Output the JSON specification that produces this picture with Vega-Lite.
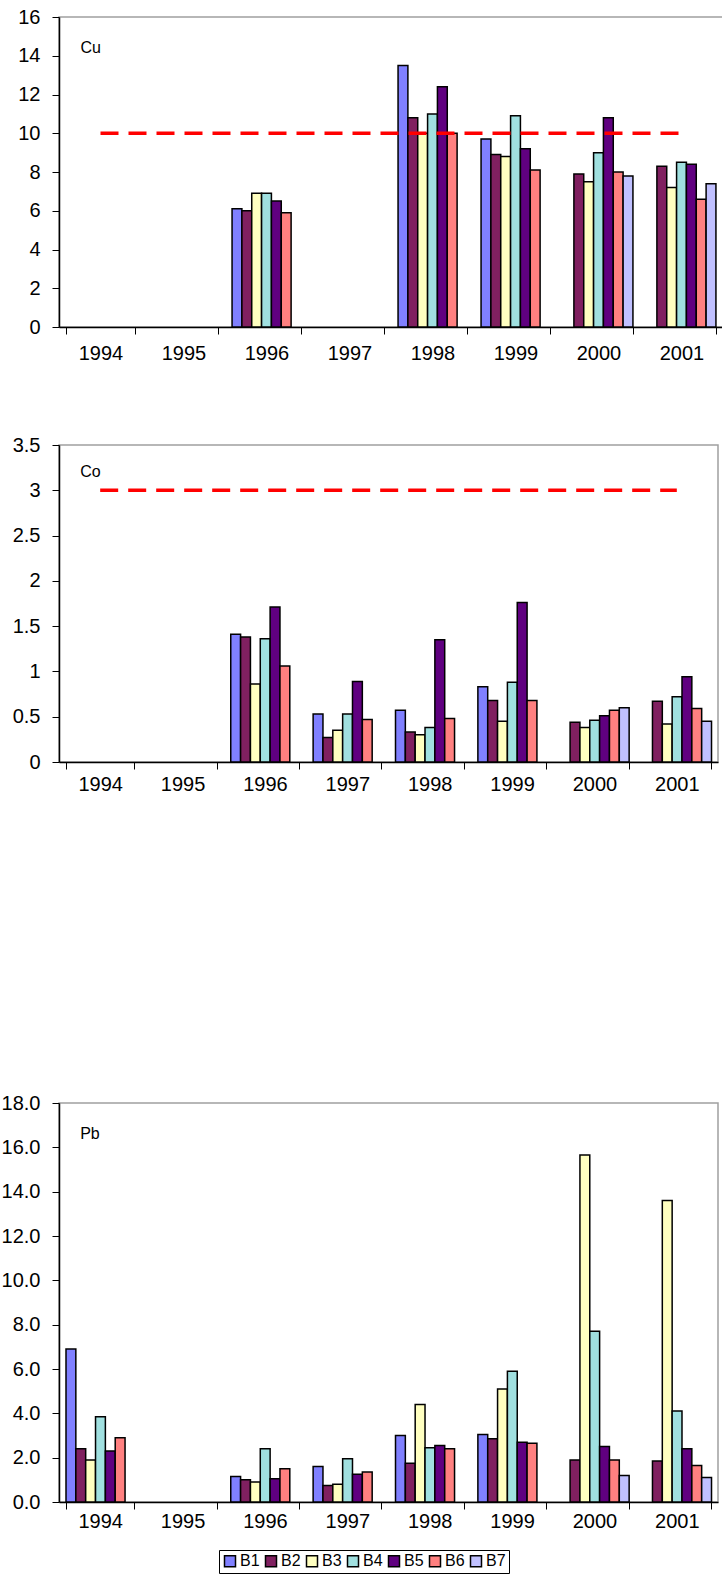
{
  "$schema": "https://vega.github.io/schema/vega-lite/v6.json",
  "background": "white",
  "padding": {"left": 0, "top": 6, "right": 0, "bottom": 0},
  "config": {
    "view": {"stroke": "#a0a0a0", "strokeWidth": 1.5},
    "font": "Liberation Sans",
    "axis": {"grid": false, "domainColor": "black", "domainWidth": 1.5, "tickColor": "black", "labelColor": "black", "labelFontSize": 20, "title": null, "labelFont": "Liberation Sans"},
    "axisX": {"tickBand": "extent", "tickSize": 7, "labelPadding": 5, "labelAngle": 0},
    "axisY": {"tickSize": 7, "labelPadding": 12, "labelFontSize": 20},
    "bar": {"stroke": "black", "strokeWidth": 1.5}
  },
  "datasets": {
    "cu": [
      {"year": "1996", "site": "B1", "v": 6.1}, {"year": "1996", "site": "B2", "v": 6.0}, {"year": "1996", "site": "B3", "v": 6.9}, {"year": "1996", "site": "B4", "v": 6.9}, {"year": "1996", "site": "B5", "v": 6.5}, {"year": "1996", "site": "B6", "v": 5.9},
      {"year": "1998", "site": "B1", "v": 13.5}, {"year": "1998", "site": "B2", "v": 10.8}, {"year": "1998", "site": "B3", "v": 10.0}, {"year": "1998", "site": "B4", "v": 11.0}, {"year": "1998", "site": "B5", "v": 12.4}, {"year": "1998", "site": "B6", "v": 10.0},
      {"year": "1999", "site": "B1", "v": 9.7}, {"year": "1999", "site": "B2", "v": 8.9}, {"year": "1999", "site": "B3", "v": 8.8}, {"year": "1999", "site": "B4", "v": 10.9}, {"year": "1999", "site": "B5", "v": 9.2}, {"year": "1999", "site": "B6", "v": 8.1},
      {"year": "2000", "site": "B2", "v": 7.9}, {"year": "2000", "site": "B3", "v": 7.5}, {"year": "2000", "site": "B4", "v": 9.0}, {"year": "2000", "site": "B5", "v": 10.8}, {"year": "2000", "site": "B6", "v": 8.0}, {"year": "2000", "site": "B7", "v": 7.8},
      {"year": "2001", "site": "B2", "v": 8.3}, {"year": "2001", "site": "B3", "v": 7.2}, {"year": "2001", "site": "B4", "v": 8.5}, {"year": "2001", "site": "B5", "v": 8.4}, {"year": "2001", "site": "B6", "v": 6.6}, {"year": "2001", "site": "B7", "v": 7.4}
    ],
    "co": [
      {"year": "1996", "site": "B1", "v": 1.41}, {"year": "1996", "site": "B2", "v": 1.38}, {"year": "1996", "site": "B3", "v": 0.86}, {"year": "1996", "site": "B4", "v": 1.36}, {"year": "1996", "site": "B5", "v": 1.71}, {"year": "1996", "site": "B6", "v": 1.06},
      {"year": "1997", "site": "B1", "v": 0.53}, {"year": "1997", "site": "B2", "v": 0.27}, {"year": "1997", "site": "B3", "v": 0.35}, {"year": "1997", "site": "B4", "v": 0.53}, {"year": "1997", "site": "B5", "v": 0.89}, {"year": "1997", "site": "B6", "v": 0.47},
      {"year": "1998", "site": "B1", "v": 0.57}, {"year": "1998", "site": "B2", "v": 0.33}, {"year": "1998", "site": "B3", "v": 0.30}, {"year": "1998", "site": "B4", "v": 0.38}, {"year": "1998", "site": "B5", "v": 1.35}, {"year": "1998", "site": "B6", "v": 0.48},
      {"year": "1999", "site": "B1", "v": 0.83}, {"year": "1999", "site": "B2", "v": 0.68}, {"year": "1999", "site": "B3", "v": 0.45}, {"year": "1999", "site": "B4", "v": 0.88}, {"year": "1999", "site": "B5", "v": 1.76}, {"year": "1999", "site": "B6", "v": 0.68},
      {"year": "2000", "site": "B2", "v": 0.44}, {"year": "2000", "site": "B3", "v": 0.38}, {"year": "2000", "site": "B4", "v": 0.46}, {"year": "2000", "site": "B5", "v": 0.51}, {"year": "2000", "site": "B6", "v": 0.57}, {"year": "2000", "site": "B7", "v": 0.60},
      {"year": "2001", "site": "B2", "v": 0.67}, {"year": "2001", "site": "B3", "v": 0.42}, {"year": "2001", "site": "B4", "v": 0.72}, {"year": "2001", "site": "B5", "v": 0.94}, {"year": "2001", "site": "B6", "v": 0.59}, {"year": "2001", "site": "B7", "v": 0.45}
    ],
    "pb": [
      {"year": "1994", "site": "B1", "v": 6.9}, {"year": "1994", "site": "B2", "v": 2.4}, {"year": "1994", "site": "B3", "v": 1.9}, {"year": "1994", "site": "B4", "v": 3.85}, {"year": "1994", "site": "B5", "v": 2.3}, {"year": "1994", "site": "B6", "v": 2.9},
      {"year": "1996", "site": "B1", "v": 1.15}, {"year": "1996", "site": "B2", "v": 1.0}, {"year": "1996", "site": "B3", "v": 0.9}, {"year": "1996", "site": "B4", "v": 2.4}, {"year": "1996", "site": "B5", "v": 1.05}, {"year": "1996", "site": "B6", "v": 1.5},
      {"year": "1997", "site": "B1", "v": 1.6}, {"year": "1997", "site": "B2", "v": 0.75}, {"year": "1997", "site": "B3", "v": 0.8}, {"year": "1997", "site": "B4", "v": 1.95}, {"year": "1997", "site": "B5", "v": 1.25}, {"year": "1997", "site": "B6", "v": 1.35},
      {"year": "1998", "site": "B1", "v": 3.0}, {"year": "1998", "site": "B2", "v": 1.75}, {"year": "1998", "site": "B3", "v": 4.4}, {"year": "1998", "site": "B4", "v": 2.45}, {"year": "1998", "site": "B5", "v": 2.55}, {"year": "1998", "site": "B6", "v": 2.4},
      {"year": "1999", "site": "B1", "v": 3.05}, {"year": "1999", "site": "B2", "v": 2.85}, {"year": "1999", "site": "B3", "v": 5.1}, {"year": "1999", "site": "B4", "v": 5.9}, {"year": "1999", "site": "B5", "v": 2.7}, {"year": "1999", "site": "B6", "v": 2.65},
      {"year": "2000", "site": "B2", "v": 1.9}, {"year": "2000", "site": "B3", "v": 15.65}, {"year": "2000", "site": "B4", "v": 7.7}, {"year": "2000", "site": "B5", "v": 2.5}, {"year": "2000", "site": "B6", "v": 1.9}, {"year": "2000", "site": "B7", "v": 1.2},
      {"year": "2001", "site": "B2", "v": 1.85}, {"year": "2001", "site": "B3", "v": 13.6}, {"year": "2001", "site": "B4", "v": 4.1}, {"year": "2001", "site": "B5", "v": 2.4}, {"year": "2001", "site": "B6", "v": 1.65}, {"year": "2001", "site": "B7", "v": 1.1}
    ],
    "cuLimit": [{"year": "1994", "v": 10}, {"year": "2001", "v": 10}],
    "coLimit": [{"year": "1994", "v": 3}, {"year": "2001", "v": 3}],
    "cuLabel": [{"year": "1994", "v": 14.4, "label": "Cu"}],
    "coLabel": [{"year": "1994", "v": 3.2, "label": "Co"}],
    "pbLabel": [{"year": "1994", "v": 16.6, "label": "Pb"}]
  },
  "vconcat": [
    {
      "width": 664, "height": 310,
      "encoding": {
        "x": {"field": "year", "type": "nominal", "scale": {"domain": ["1994","1995","1996","1997","1998","1999","2000","2001"], "paddingInner": 0.17, "paddingOuter": 0.085}, "axis": {"labelPadding": 9}},
        "y": {"field": "v", "type": "quantitative", "scale": {"domain": [0, 16]}, "axis": {"values": [0,2,4,6,8,10,12,14,16]}}
      },
      "layer": [
        {
          "data": {"name": "cu"},
          "mark": "bar",
          "encoding": {
            "xOffset": {"field": "site", "scale": {"domain": ["B1","B2","B3","B4","B5","B6","B7"]}},
            "fill": {"field": "site", "type": "nominal", "title": null,
              "scale": {"domain": ["B1","B2","B3","B4","B5","B6","B7"], "range": ["#8080ff","#802060","#ffffc0","#a0e0e0","#600080","#ff8080","#c0c0ff"]},
              "legend": {"orient": "none", "legendX": 160, "legendY": 1533, "direction": "horizontal", "columns": 7, "symbolType": "square", "symbolSize": 121, "symbolStrokeColor": "black", "symbolStrokeWidth": 1.2, "labelFontSize": 16, "labelColor": "black", "columnPadding": 2, "strokeColor": "black", "padding": 3, "labelOffset": 2}}
          }
        },
        {
          "data": {"name": "cuLimit"},
          "mark": {"type": "line", "color": "#ff0000", "strokeWidth": 3.5, "strokeDash": [18, 10]},
          "encoding": {}
        },
        {
          "data": {"name": "cuLabel"},
          "mark": {"type": "text", "fontSize": 16, "align": "left", "dx": -20, "color": "black"},
          "encoding": {"text": {"field": "label"}}
        }
      ]
    },
    {
      "width": 659, "height": 317,
      "encoding": {
        "x": {"field": "year", "type": "nominal", "scale": {"domain": ["1994","1995","1996","1997","1998","1999","2000","2001"], "paddingInner": 0.17, "paddingOuter": 0.085}},
        "y": {"field": "v", "type": "quantitative", "scale": {"domain": [0, 3.5]}, "axis": {"values": [0,0.5,1,1.5,2,2.5,3,3.5], "format": "~g"}}
      },
      "layer": [
        {
          "data": {"name": "co"},
          "mark": "bar",
          "encoding": {
            "xOffset": {"field": "site", "scale": {"domain": ["B1","B2","B3","B4","B5","B6","B7"]}},
            "fill": {"field": "site", "type": "nominal"}
          }
        },
        {
          "data": {"name": "coLimit"},
          "mark": {"type": "line", "color": "#ff0000", "strokeWidth": 3.5, "strokeDash": [18, 10]},
          "encoding": {}
        },
        {
          "data": {"name": "coLabel"},
          "mark": {"type": "text", "fontSize": 16, "align": "left", "dx": -20, "color": "black"},
          "encoding": {"text": {"field": "label"}}
        }
      ]
    },
    {
      "width": 659, "height": 157,
      "view": {"stroke": null},
      "data": {"values": []},
      "mark": "point",
      "encoding": {}
    },
    {
      "width": 659, "height": 399,
      "encoding": {
        "x": {"field": "year", "type": "nominal", "scale": {"domain": ["1994","1995","1996","1997","1998","1999","2000","2001"], "paddingInner": 0.17, "paddingOuter": 0.085}, "axis": {"labelPadding": 2}},
        "y": {"field": "v", "type": "quantitative", "scale": {"domain": [0, 18]}, "axis": {"values": [0,2,4,6,8,10,12,14,16,18], "format": ".1f"}}
      },
      "layer": [
        {
          "data": {"name": "pb"},
          "mark": "bar",
          "encoding": {
            "xOffset": {"field": "site", "scale": {"domain": ["B1","B2","B3","B4","B5","B6","B7"]}},
            "fill": {"field": "site", "type": "nominal"}
          }
        },
        {
          "data": {"name": "pbLabel"},
          "mark": {"type": "text", "fontSize": 16, "align": "left", "dx": -20, "color": "black"},
          "encoding": {"text": {"field": "label"}}
        }
      ]
    }
  ],
  "spacing": 70,
  "resolve": {"scale": {"fill": "shared"}}
}
